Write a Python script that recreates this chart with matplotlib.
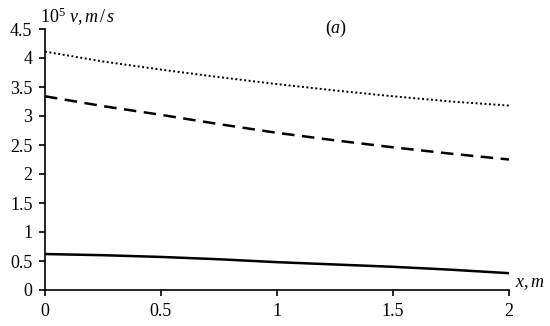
import matplotlib.pyplot as plt
import numpy as np

x = [0, 0.25, 0.5, 0.75, 1.0, 1.25, 1.5, 1.75, 2.0]
v_dotted = [4.11, 3.94, 3.80, 3.67, 3.55, 3.44, 3.34, 3.25, 3.18]
v_dashed = [3.34, 3.17, 3.02, 2.86, 2.71, 2.58, 2.46, 2.35, 2.25]
v_solid = [0.62, 0.60, 0.57, 0.53, 0.48, 0.44, 0.40, 0.35, 0.29]

yticks = [0, 0.5, 1, 1.5, 2, 2.5, 3, 3.5, 4, 4.5]
xticks = [0, 0.5, 1, 1.5, 2]

plt.rcParams.update({'font.family': 'Liberation Serif', 'font.size': 13,
                     'mathtext.fontset': 'custom', 'mathtext.rm': 'Liberation Serif',
                     'mathtext.it': 'Liberation Serif:italic'})

fig = plt.figure(figsize=(5.5, 3.26), dpi=100)
ax = fig.add_axes([45 / 550, 1 - 290 / 326, 464 / 550, 261 / 326])

ax.plot(x, v_dotted, color='black', linestyle=(0, (1, 1.3)), linewidth=1.4)
ax.plot(x, v_dashed, color='black', linestyle=(0, (5, 3)), linewidth=1.8)
ax.plot(x, v_solid, color='black', linestyle='-', linewidth=1.8)

ax.set_xlim(0, 2)
ax.set_ylim(0, 4.5)
ax.set_xticks(xticks, labels=[f"{t:g}" for t in xticks])
ax.set_yticks(yticks, labels=[f"{t:g}" for t in yticks])
ax.spines['top'].set_visible(False)
ax.spines['right'].set_visible(False)
for s in ['left', 'bottom']:
    ax.spines[s].set_linewidth(1.2)
ax.tick_params(direction='out', length=4, width=1.2, pad=5)

fig.text(40 / 550, 1 - 17 / 326, r"$10^5$ $v, m\,/\,s$", ha='left', va='center', fontsize=13)
fig.text(515 / 550, 1 - 284 / 326, r"$x, m$", ha='left', va='center', fontsize=13)
fig.text(336 / 550, 1 - 28 / 326, r"($a$)", ha='center', va='center', fontsize=13)

plt.savefig("out.png", dpi=100)
